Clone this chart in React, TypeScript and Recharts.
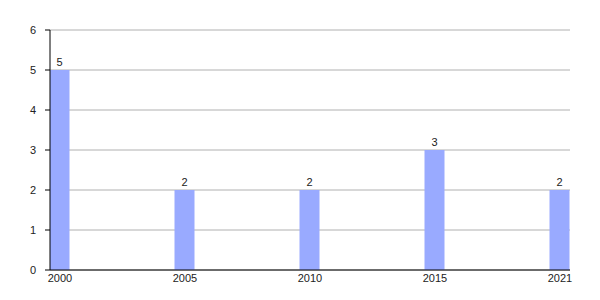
import React from 'react';
import {
  BarChart,
  Bar,
  XAxis,
  YAxis,
  CartesianGrid,
  LabelList
} from 'recharts';

const years = ['2000', '2005', '2010', '2015', '2021'];
const counts = [5, 2, 2, 3, 2];
const yTicks = [0, 1, 2, 3, 4, 5, 6];

// index-based x so the first and last bars sit flush with the plot edges
const data = years.map((year, i) => ({ idx: i, year, count: counts[i] }));

const font = 'Liberation Sans, Arial, sans-serif';

export default function App() {
  return (
    <div style={{ position: 'absolute', left: 0, top: 0, width: 600, height: 300, background: '#fff' }}>
      <BarChart
        width={600}
        height={300}
        data={data}
        margin={{ top: 30, right: 30, left: 0, bottom: 0 }}
      >
        <CartesianGrid horizontal vertical={false} stroke="#b0b0b0" />
        <XAxis
          type="number"
          dataKey="idx"
          domain={[-0.08, 4.08]}
          ticks={[0, 1, 2, 3, 4]}
          tickFormatter={(i: number) => years[i]}
          height={30}
          tickLine={false}
          tickSize={0}
          tickMargin={4}
          axisLine={{ stroke: '#000' }}
          tick={{ fontSize: 11, fill: '#222', fontFamily: font }}
          allowDataOverflow
        />
        <YAxis
          width={50}
          domain={[0, 6]}
          ticks={yTicks}
          tickSize={5}
          tickMargin={9}
          tickLine={{ stroke: '#000' }}
          axisLine={{ stroke: '#000' }}
          tick={{ fontSize: 11, fill: '#222', fontFamily: font }}
        />
        <Bar dataKey="count" fill="#99aaff" barSize={20} isAnimationActive={false}>
          <LabelList
            dataKey="count"
            position="top"
            offset={4}
            style={{ fontSize: 11, fill: '#222', fontFamily: font }}
          />
        </Bar>
      </BarChart>
    </div>
  );
}
